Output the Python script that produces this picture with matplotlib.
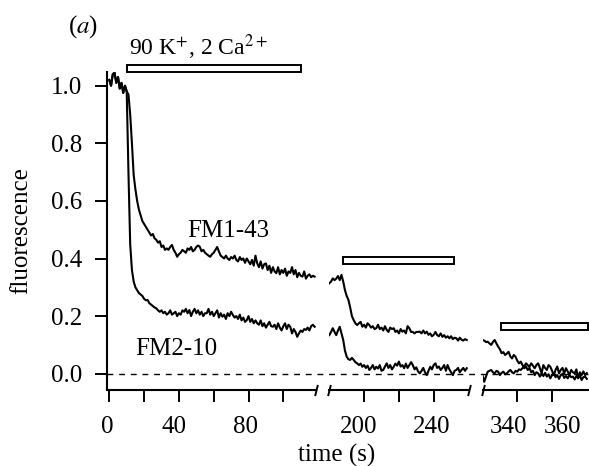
import numpy as np
import matplotlib
matplotlib.use("Agg")
import matplotlib.pyplot as plt
from matplotlib.patches import Rectangle
import matplotlib.transforms as mtransforms

plt.rcParams['font.family'] = ['Liberation Serif', 'DejaVu Serif']
plt.rcParams['mathtext.fontset'] = 'stix'
plt.rcParams['font.size'] = 18

# time sampling of each recording segment (s)
seg_start = [0, 180, 320]

# FM1-43, segment 1 (t = 0..118 s)
fm143_a = [1.02, 1.00, 1.04, 1.045, 1.01, 1.03, 0.99, 1.01, 0.975, 1.00, 0.98,
           0.97, 0.90, 0.80, 0.69, 0.64, 0.60, 0.57, 0.55, 0.53, 0.52,
           0.51, 0.50, 0.49, 0.48, 0.485, 0.47, 0.465, 0.455, 0.46, 0.44,
           0.445, 0.43, 0.435, 0.43, 0.44, 0.447, 0.43, 0.42, 0.406, 0.415,
           0.42, 0.43, 0.425, 0.42, 0.435, 0.43, 0.44, 0.425, 0.43, 0.44,
           0.445, 0.441, 0.425, 0.43, 0.42, 0.415, 0.41, 0.406, 0.415, 0.42,
           0.43, 0.44, 0.424, 0.41, 0.405, 0.40, 0.41, 0.40, 0.395, 0.405,
           0.40, 0.41, 0.395, 0.39, 0.405, 0.395, 0.40, 0.385, 0.40, 0.39,
           0.38, 0.395, 0.375, 0.41, 0.383, 0.37, 0.39, 0.365, 0.38, 0.383,
           0.36, 0.375, 0.35, 0.37, 0.355, 0.349, 0.37, 0.345, 0.36, 0.35,
           0.365, 0.34, 0.355, 0.35, 0.37, 0.345, 0.36, 0.335, 0.35, 0.34,
           0.337, 0.355, 0.33, 0.34, 0.345, 0.335, 0.34, 0.337]
# FM2-10, segment 1
fm210_a = [1.02, 1.00, 1.04, 1.045, 1.01, 1.03, 0.99, 1.01, 0.975, 1.00, 0.98,
           0.70, 0.45, 0.36, 0.32, 0.30, 0.29, 0.28, 0.275, 0.27, 0.26,
           0.255, 0.256, 0.245, 0.24, 0.235, 0.23, 0.227, 0.22, 0.215, 0.22,
           0.21, 0.215, 0.205, 0.21, 0.22, 0.205, 0.21, 0.215, 0.20, 0.21,
           0.205, 0.22, 0.215, 0.225, 0.21, 0.221, 0.20, 0.215, 0.225, 0.21,
           0.22, 0.205, 0.215, 0.20, 0.21, 0.21, 0.225, 0.205, 0.215, 0.20,
           0.21, 0.22, 0.195, 0.21, 0.198, 0.205, 0.19, 0.21, 0.20, 0.215,
           0.204, 0.195, 0.20, 0.19, 0.205, 0.185, 0.195, 0.18, 0.186, 0.20,
           0.18, 0.19, 0.175, 0.185, 0.175, 0.17, 0.185, 0.165, 0.175, 0.16,
           0.17, 0.18, 0.165, 0.163, 0.17, 0.155, 0.175, 0.16, 0.15, 0.165,
           0.175, 0.155, 0.17, 0.163, 0.14, 0.155, 0.145, 0.128, 0.14, 0.15,
           0.145, 0.155, 0.152, 0.16, 0.15, 0.165, 0.17, 0.163]

# segment 2 (t = 180..259 s)
fm143_b = [0.314, 0.32, 0.331, 0.325, 0.33, 0.339, 0.325, 0.343, 0.32, 0.29,
           0.27, 0.256, 0.23, 0.20, 0.186, 0.175, 0.169, 0.175, 0.18, 0.163,
           0.17, 0.16, 0.175, 0.169, 0.16, 0.165, 0.155, 0.158, 0.17, 0.155,
           0.16, 0.15, 0.165, 0.152, 0.145, 0.16, 0.155, 0.158, 0.145, 0.15,
           0.14, 0.155, 0.146, 0.15, 0.14, 0.165, 0.158, 0.145, 0.145, 0.14,
           0.145, 0.145, 0.146, 0.14, 0.15, 0.14, 0.146, 0.135, 0.14, 0.13,
           0.135, 0.145, 0.134, 0.13, 0.14, 0.128, 0.134, 0.125, 0.13, 0.123,
           0.13, 0.12, 0.125, 0.123, 0.115, 0.125, 0.118, 0.115, 0.12, 0.117]
fm210_b = [0.134, 0.145, 0.158, 0.145, 0.134, 0.15, 0.163, 0.14, 0.117, 0.08,
           0.059, 0.05, 0.048, 0.055, 0.048, 0.04, 0.036, 0.03, 0.035, 0.024,
           0.03, 0.02, 0.028, 0.013, 0.02, 0.03, 0.015, 0.024, 0.018, 0.03,
           0.01, 0.013, 0.025, 0.036, 0.02, 0.03, 0.015, 0.024, 0.035, 0.028,
           0.042, 0.025, 0.03, 0.019, 0.035, 0.02, 0.03, 0.04, 0.03, 0.015,
           0.022, 0.008, 0.001, 0.01, 0.02, 0.005, -0.005, 0.01, 0.024, 0.015,
           0.03, 0.036, 0.02, 0.025, 0.013, 0.02, 0.03, 0.01, 0.03, 0.015,
           0.005, -0.005, 0.01, 0.013, 0.02, 0.005, 0.013, 0.02, 0.01, 0.019]

# segment 3 (t = 320..380 s)
fm143_c = [0.117, 0.115, 0.11, 0.111, 0.105, 0.10, 0.11, 0.117, 0.105, 0.094,
           0.085, 0.071, 0.075, 0.065, 0.07, 0.076, 0.06, 0.053, 0.065, 0.059,
           0.045, 0.036, 0.042, 0.03, 0.019, 0.025, 0.013, 0.02, 0.005, 0.01,
           -0.005, 0.005, 0.001, -0.01, 0.0, -0.008, 0.003, -0.01, -0.002, -0.016,
           -0.005, 0.002, -0.012, -0.005, -0.018, -0.005, 0.0, -0.015, -0.008, -0.016,
           -0.005, -0.012, -0.01, -0.02, -0.008, -0.015, -0.005, -0.022, -0.012, -0.01,
           -0.018]
fm210_c = [-0.005, -0.028, -0.01, 0.007, 0.01, 0.013, 0.005, 0.001, 0.01, 0.007,
           -0.005, 0.003, 0.007, -0.002, 0.001, 0.008, 0.013, 0.005, 0.001, 0.01,
           0.007, 0.015, 0.013, 0.019, 0.025, 0.036, 0.03, 0.024, 0.036, 0.028,
           0.019, 0.03, 0.036, 0.02, 0.001, 0.03, 0.02, 0.013, 0.03, 0.024,
           0.01, -0.005, 0.013, 0.025, 0.001, 0.013, 0.02, 0.001, 0.019, 0.008,
           -0.005, 0.013, 0.005, 0.001, 0.015, -0.016, 0.005, -0.005, 0.008, -0.005,
           0.002]

# stimulus periods (90 K+, 2 Ca2+)
stim_on = [10, 188, 330.5]
stim_off = [110, 251.7, 380.8]
stim_level = [1.048, 0.380, 0.152]

xlims = [(-1.5, 118.5), (180, 260), (320, 380.5)]
xticks = [[0, 20, 40, 60, 80, 100], [200, 220, 240], [340, 360]]
xticklabels = [['0', '', '40', '', '80', ''], ['200', '', '240'], ['340', '360']]
# small horizontal nudges of the tick labels (pixels), as typeset in the original
label_shift = [[-2, 0, -5, 0, -2.7, 0], [-5, 0, -2.5], [-9, 10.5]]
yticks = [0.0, 0.2, 0.4, 0.6, 0.8, 1.0]

fig = plt.figure(figsize=(5.89, 4.66), dpi=100)
W, H = 589.0, 466.0
bottom = 1 - 390 / H
height = 318 / H
lefts = [106.7, 329.3, 482.5]
rights = [315.5, 468.5, 587.7]
axes = [fig.add_axes([l / W, bottom, (r - l) / W, height]) for l, r in zip(lefts, rights)]

traces = [(fm143_a, fm210_a), (fm143_b, fm210_b), (fm143_c, fm210_c)]
for i, ax in enumerate(axes):
    a, b = traces[i]
    t = seg_start[i] + np.arange(len(a))
    ax.plot(t, a, color='black', lw=1.5)
    ax.plot(t, b, color='black', lw=1.5)
    ax.add_patch(Rectangle((stim_on[i], stim_level[i]), stim_off[i] - stim_on[i], 0.024,
                           facecolor='white', edgecolor='black', lw=1.4, clip_on=False,
                           zorder=5))
    ax.set_xlim(*xlims[i])
    ax.set_ylim(-0.0566, 1.0476)
    ax.set_xticks(xticks[i])
    ax.set_xticklabels([])
    # tick labels placed by hand so they can carry the original's offsets
    base = mtransforms.blended_transform_factory(ax.transData, ax.transAxes)
    for xv, lab, dx in zip(xticks[i], xticklabels[i], label_shift[i]):
        off = mtransforms.ScaledTranslation(dx / 100, -43 / 100, fig.dpi_scale_trans)
        ax.text(xv, 0, lab, transform=base + off, ha='center', va='baseline')
    ax.tick_params(axis='x', direction='out', length=8.5, width=1.4, pad=8)
    ax.tick_params(axis='y', direction='out', length=8.5, width=1.4, pad=9)
    for s in ['top', 'right']:
        ax.spines[s].set_visible(False)
    ax.spines['bottom'].set_linewidth(1.5)
    ax.spines['left'].set_linewidth(1.5)
    ax.patch.set_visible(False)
    if i > 0:
        ax.spines['left'].set_visible(False)
        ax.set_yticks([])
    # break marks
    kw = dict(marker=[(-0.25, -1), (0.25, 1)], markersize=8, linestyle='none',
              color='black', mec='black', mew=1.4, clip_on=False,
              transform=ax.transAxes)
    if i < 2:
        ax.plot([1], [0], **kw)
    if i > 0:
        ax.plot([0], [0], **kw)

ax1 = axes[0]
ax1.set_yticks(yticks)
ax1.set_yticklabels(['%.1f' % v for v in yticks])
ax1.set_ylabel('fluorescence')
ax1.yaxis.set_label_coords(-0.355, 0.5)

# dashed baseline across all segments
trans = mtransforms.blended_transform_factory(fig.transFigure, ax1.transData)
ax1.plot([lefts[0] / W, rights[2] / W], [0, 0], transform=trans, color='black',
         lw=1.0, linestyle=(0, (4.2, 4.2)), clip_on=False)

ax1.text(11.3, 1.107, r'90 K$^{+}$, 2 Ca$^{2+}$', va='baseline', ha='left', fontsize=17)
ax1.text(44.5, 0.476, 'FM1-43', va='baseline', ha='left')
ax1.text(14.8, 0.065, 'FM2-10', va='baseline', ha='left')
fig.text(68 / W, 1 - 33 / H, r'($a$)', va='baseline', ha='left')

fig.supxlabel('time (s)', x=337 / W, y=1 - 455 / H, va='center', fontsize=18)

fig.savefig('out.png', dpi=100)
